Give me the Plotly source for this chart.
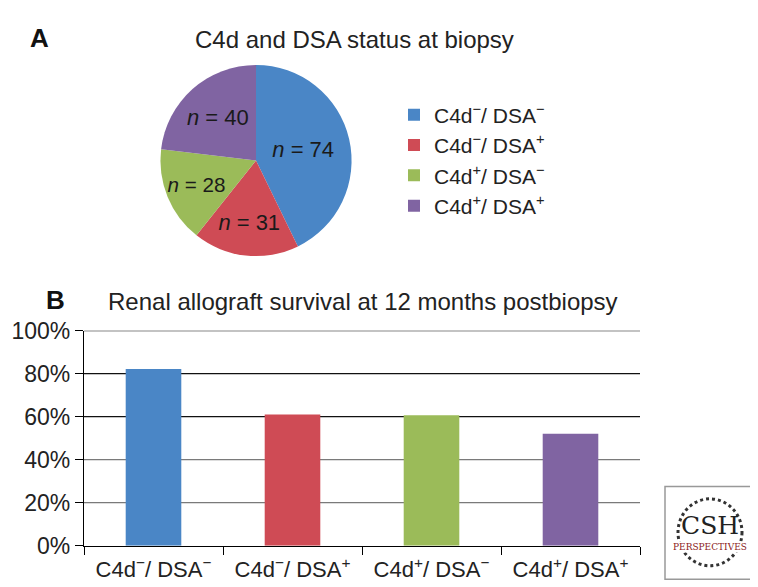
import plotly.graph_objects as go

# ---- data ----
pie_labels = ["C4d<sup>\u2212</sup>/ DSA<sup>\u2212</sup>", "C4d<sup>\u2212</sup>/ DSA<sup>+</sup>",
              "C4d<sup>+</sup>/ DSA<sup>\u2212</sup>", "C4d<sup>+</sup>/ DSA<sup>+</sup>"]
pie_counts = [74, 31, 28, 40]
bar_categories = pie_labels
survival_pct = [82.2, 61.0, 60.7, 52.1]
y_ticks = [0, 20, 40, 60, 80, 100]
y_tick_text = ["0%", "20%", "40%", "60%", "80%", "100%"]
colors = ["#4A86C6", "#CF4B55", "#9BBB59", "#8064A2"]

W, H = 758, 587
FONT = "Liberation Sans, Arial, Helvetica, sans-serif"

fig = go.Figure()

fig.add_trace(go.Pie(
    labels=pie_labels, values=pie_counts, sort=False, direction="clockwise", rotation=0,
    marker=dict(colors=colors, line=dict(width=0)),
    texttemplate="<i>n</i> = %{value}", textposition="inside",
    insidetextorientation="horizontal",
    textfont=dict(size=22, color="#1a1a1a", family=FONT),
    domain=dict(x=[148 / W, 348 / W], y=[1 - 246 / H, 1 - 46 / H]),
    hoverinfo="none", showlegend=True,
))

fig.add_trace(go.Bar(
    x=bar_categories, y=survival_pct, marker=dict(color=colors, line=dict(width=0)),
    width=0.4, showlegend=False, xaxis="x", yaxis="y", hoverinfo="none",
))

# gridlines
for v in y_ticks[1:]:
    fig.add_shape(type="line", xref="paper", yref="y", x0=76 / W, x1=632 / W, y0=v, y1=v,
                  line=dict(color="#111" if v >= 60 else "#7a7a7a", width=1.3), layer="below")

fig.update_layout(
    width=W, height=H, margin=dict(l=0, r=0, t=0, b=0),
    paper_bgcolor="white", plot_bgcolor="white",
    font=dict(family=FONT, color="#222"),
    xaxis=dict(domain=[76 / W, 632 / W], type="category", showline=True, linecolor="black",
               linewidth=1.3, ticks="outside", tickson="boundaries", ticklen=8,
               tickcolor="black", tickfont=dict(size=22, color="#222"), showgrid=False,
               ticklabelstandoff=4, anchor="y"),
    yaxis=dict(domain=[1 - 549 / H, 1 - 324 / H], range=[0, 100], tickvals=y_ticks,
               ticktext=y_tick_text, showline=True, linecolor="black", linewidth=1.3,
               ticks="outside", ticklen=8, tickcolor="black", showgrid=False,
               zeroline=False, tickfont=dict(size=23, color="#222"), anchor="x"),
    legend=dict(x=386 / W, y=1 - 77 / H, xanchor="left", yanchor="top",
                font=dict(size=21, color="#222"), itemsizing="constant",
                tracegroupgap=0, bgcolor="rgba(0,0,0,0)"),
    bargap=0.6,
)

ann = [
    dict(text="<b>A</b>", x=20 / W, y=1 - 18 / H, xanchor="left", yanchor="middle",
         font=dict(size=26, color="#111")),
    dict(text="C4d and DSA status at biopsy", x=346 / W, y=1 - 19 / H, xanchor="center",
         yanchor="middle", font=dict(size=24, color="#222")),
    dict(text="<b>B</b>", x=36 / W, y=1 - 292 / H, xanchor="left", yanchor="middle",
         font=dict(size=26, color="#111")),
    dict(text="Renal allograft survival at 12 months postbiopsy", x=98 / W, y=1 - 293 / H,
         xanchor="left", yanchor="middle", font=dict(size=24, color="#222")),
    dict(text="CSH", x=702 / W, y=1 - 528 / H, xanchor="center", yanchor="middle",
         font=dict(size=25, color="#222", family="DejaVu Serif, serif")),
    dict(text="PERSPECTIVES", x=702 / W, y=1 - 550 / H, xanchor="center", yanchor="middle",
         bgcolor="white", borderpad=0,
         font=dict(size=9, color="#8B1A1A", family="DejaVu Serif, serif")),
]
for a in ann:
    a.update(xref="paper", yref="paper", showarrow=False)
fig.update_layout(annotations=ann)
fig.add_shape(type="circle", xref="paper", yref="paper", x0=670 / W, x1=734 / W,
              y0=1 - 570 / H, y1=1 - 500 / H, line=dict(color="#333", width=3, dash="dot"),
              layer="below")
fig.add_shape(type="rect", xref="paper", yref="paper", x0=657 / W, x1=747 / W,
              y0=1 - 584 / H, y1=1 - 487 / H, line=dict(color="#999", width=1.5))

fig.write_html("out.html")
